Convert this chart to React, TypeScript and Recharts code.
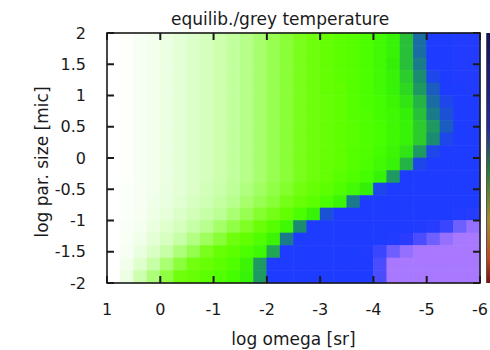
import React from 'react';
import { ScatterChart, Scatter, XAxis, YAxis } from 'recharts';

// column centres on log omega [sr], left (1) to right (-6), step 0.25
const OMEGA_CENTERS = [
  0.875, 0.625, 0.375, 0.125, -0.125, -0.375, -0.625, -0.875, -1.125, -1.375,
  -1.625, -1.875, -2.125, -2.375, -2.625, -2.875, -3.125, -3.375, -3.625, -3.875,
  -4.125, -4.375, -4.625, -4.875, -5.125, -5.375, -5.625, -5.875,
];

// row centres on log par. size [mic], top to bottom, step 0.2
const SIZE_CENTERS = [1.9, 1.7, 1.5, 1.3, 1.1, 0.9, 0.7, 0.5, 0.3, 0.1, -0.1, -0.3, -0.5, -0.7, -0.9, -1.1, -1.3, -1.5, -1.7, -1.9];

// temperature ratio level (0 = white .. 100 = violet), one row per size
const T_P19 = [0, 3, 7, 10, 13, 17, 20, 23, 26, 30, 34, 39, 44, 49, 54, 58, 61, 64, 66, 69, 72, 75, 80, 86, 90, 90, 91, 91];
const T_P17 = [0, 3, 7, 10, 13, 17, 20, 23, 26, 30, 34, 39, 44, 49, 54, 58, 61, 64, 66, 69, 72, 75, 80, 86, 90, 90, 91, 91];
const T_P15 = [0, 3, 7, 10, 13, 17, 20, 23, 26, 30, 34, 39, 44, 49, 54, 58, 61, 64, 66, 69, 72, 76, 80, 85, 90, 90, 91, 91];
const T_P13 = [0, 3, 7, 10, 13, 17, 20, 23, 26, 30, 34, 39, 44, 49, 54, 58, 61, 64, 66, 69, 72, 75, 79, 84, 89, 90, 91, 91];
const T_P11 = [0, 3, 7, 10, 13, 17, 20, 23, 26, 30, 34, 39, 44, 49, 54, 58, 61, 63, 66, 69, 72, 75, 78, 83, 87, 90, 90, 91];
const T_P09 = [0, 3, 7, 10, 13, 17, 20, 23, 26, 30, 34, 39, 44, 49, 54, 58, 60, 63, 66, 69, 71, 74, 77, 81, 86, 89, 90, 90];
const T_P07 = [0, 3, 7, 10, 13, 17, 20, 23, 26, 30, 34, 39, 44, 49, 54, 58, 60, 63, 66, 68, 71, 73, 76, 80, 85, 88, 90, 90];
const T_P05 = [0, 3, 7, 10, 13, 17, 20, 23, 26, 30, 34, 39, 44, 49, 54, 58, 60, 63, 65, 68, 70, 73, 75, 79, 83, 87, 90, 90];
const T_P03 = [0, 3, 7, 10, 13, 17, 20, 23, 26, 30, 34, 39, 44, 49, 54, 58, 60, 63, 65, 68, 70, 73, 75, 79, 84, 89, 90, 90];
const T_P01 = [0, 3, 7, 10, 13, 17, 20, 23, 26, 30, 34, 39, 44, 49, 54, 58, 60, 63, 66, 68, 71, 74, 77, 83, 89, 90, 90, 90];
const T_M01 = [0, 3, 7, 10, 13, 17, 20, 23, 26, 30, 34, 39, 44, 49, 54, 58, 61, 63, 66, 69, 72, 75, 81, 89, 90, 90, 90, 90];
const T_M03 = [0, 3, 7, 10, 13, 17, 20, 23, 26, 30, 34, 39, 44, 49, 54, 58, 61, 65, 68, 71, 75, 83, 90, 90, 90, 90, 90, 90];
const T_M05 = [0, 4, 7, 10, 14, 17, 20, 24, 27, 31, 36, 41, 46, 51, 56, 60, 64, 68, 72, 76, 89, 90, 90, 90, 90, 90, 90, 90];
const T_M07 = [0, 4, 7, 11, 14, 18, 22, 25, 29, 33, 39, 44, 49, 55, 60, 64, 69, 74, 85, 90, 90, 90, 90, 90, 90, 90, 90, 90];
const T_M09 = [0, 4, 8, 12, 16, 20, 24, 28, 32, 38, 44, 50, 55, 62, 69, 75, 88, 90, 90, 90, 90, 90, 90, 90, 90, 90, 91, 92];
const T_M11 = [0, 5, 9, 14, 19, 23, 28, 33, 40, 46, 52, 59, 66, 73, 84, 90, 90, 90, 90, 90, 90, 90, 90, 91, 92, 94, 97, 99];
const T_M13 = [0, 6, 11, 17, 22, 28, 35, 42, 49, 57, 62, 68, 74, 85, 90, 90, 90, 90, 90, 90, 90, 91, 93, 95, 97, 99, 100, 100];
const T_M15 = [0, 7, 14, 21, 28, 37, 45, 54, 60, 64, 69, 73, 82, 90, 90, 90, 90, 90, 90, 91, 94, 97, 99, 100, 100, 100, 100, 100];
const T_M17 = [0, 10, 19, 28, 38, 48, 56, 60, 64, 68, 74, 83, 90, 90, 90, 90, 90, 90, 90, 90, 95, 100, 100, 100, 100, 100, 100, 100];
const T_M19 = [0, 13, 26, 37, 47, 57, 60, 64, 67, 71, 75, 83, 90, 90, 90, 90, 90, 90, 90, 90, 95, 100, 100, 100, 100, 100, 100, 100];

const T_ROWS = [T_P19, T_P17, T_P15, T_P13, T_P11, T_P09, T_P07, T_P05, T_P03, T_P01,
  T_M01, T_M03, T_M05, T_M07, T_M09, T_M11, T_M13, T_M15, T_M17, T_M19];

const X_TICKS = [1, 0, -1, -2, -3, -4, -5, -6];
const Y_TICKS = [-2, -1.5, -1, -0.5, 0, 0.5, 1, 1.5, 2];

const PALETTE: [number, string][] = [
  [0, '#ffffff'], [8, '#f6fff2'], [16, '#e6ffda'], [24, '#d2ffb8'], [32, '#bcff94'],
  [40, '#a4ff68'], [48, '#8cff3c'], [56, '#72ff10'], [62, '#62ff00'], [70, '#48ff00'],
  [76, '#34f008'], [80, '#28c038'], [84, '#1a8c70'], [87, '#1a5cc0'], [90, '#1e3cff'],
  [93, '#2a3cff'], [96, '#5a56ff'], [100, '#a878ff'],
];

const W = 490;
const H = 350;
const PLOT_LEFT = 107;
const PLOT_RIGHT = 480;
const PLOT_TOP = 33;
const PLOT_BOTTOM = 283;
const PLOT_W = PLOT_RIGHT - PLOT_LEFT;
const PLOT_H = PLOT_BOTTOM - PLOT_TOP;
const CELL_W = (PLOT_W * 0.25) / 7;
const CELL_H = (PLOT_H * 0.2) / 4;
const TICK_LEN = 7;

const FONT = '"DejaVu Sans", sans-serif';
const INK = '#1a1a1a';
const EDGE = '#1a1a1a';

function hexToRgb(h: string) {
  const n = parseInt(h.slice(1), 16);
  return [(n >> 16) & 255, (n >> 8) & 255, n & 255];
}

function tempColor(v: number) {
  for (let i = 1; i < PALETTE.length; i++) {
    const [v1, c1] = PALETTE[i];
    if (v <= v1) {
      const [v0, c0] = PALETTE[i - 1];
      const t = (v - v0) / (v1 - v0);
      const a = hexToRgb(c0);
      const b = hexToRgb(c1);
      const rgb = a.map((x, k) => Math.round(x + (b[k] - x) * t));
      return `rgb(${rgb[0]},${rgb[1]},${rgb[2]})`;
    }
  }
  return PALETTE[PALETTE.length - 1][1];
}

const cells = T_ROWS.flatMap((row, r) =>
  row.map((v, c) => ({ x: OMEGA_CENTERS[c], y: SIZE_CENTERS[r], v })),
);

const HeatCell = (props: any) => {
  const { cx, cy, payload } = props;
  return (
    <rect
      x={cx - CELL_W / 2 - 0.3}
      y={cy - CELL_H / 2 - 0.3}
      width={CELL_W + 0.6}
      height={CELL_H + 0.6}
      fill={tempColor(payload.v)}
    />
  );
};

const tickStyle = { fontSize: 16, fill: INK, fontFamily: FONT };

// inward tick marks and border, laid over the cells
function Frame() {
  const px = (t: number) => PLOT_LEFT + ((1 - t) / 7) * PLOT_W;
  const py = (t: number) => PLOT_BOTTOM - ((t + 2) / 4) * PLOT_H;
  return (
    <svg width={W} height={H} style={{ position: 'absolute', left: 0, top: 0, pointerEvents: 'none' }}>
      <g stroke={EDGE} strokeWidth={1.6} fill="none">
        <rect x={PLOT_LEFT} y={PLOT_TOP} width={PLOT_W} height={PLOT_H} />
        {X_TICKS.map((t) => (
          <g key={`x${t}`} strokeWidth={2}>
            <line x1={px(t)} x2={px(t)} y1={PLOT_BOTTOM} y2={PLOT_BOTTOM - TICK_LEN} />
            <line x1={px(t)} x2={px(t)} y1={PLOT_TOP} y2={PLOT_TOP + TICK_LEN} />
          </g>
        ))}
        {Y_TICKS.map((t) => (
          <g key={`y${t}`} strokeWidth={2}>
            <line x1={PLOT_LEFT} x2={PLOT_LEFT + TICK_LEN} y1={py(t)} y2={py(t)} />
            <line x1={PLOT_RIGHT} x2={PLOT_RIGHT - TICK_LEN} y1={py(t)} y2={py(t)} />
          </g>
        ))}
      </g>
    </svg>
  );
}

export default function App() {
  return (
    <div style={{ position: 'absolute', left: 0, top: 0, width: W, height: H, background: '#fff', fontFamily: FONT, color: INK }}>
      <div style={{ position: 'absolute', left: 171, top: 9, width: 200, textAlign: 'center', fontSize: 17, lineHeight: '20px', whiteSpace: 'nowrap' }}>
        equilib./grey temperature
      </div>
      <div style={{ position: 'absolute', left: 0, top: 0 }}>
        <ScatterChart width={W} height={H} margin={{ top: PLOT_TOP, right: W - PLOT_RIGHT, bottom: 0, left: 0 }}>
          <XAxis
            type="number"
            dataKey="x"
            domain={[-6, 1]}
            reversed
            ticks={X_TICKS}
            interval={0}
            height={H - PLOT_BOTTOM}
            tickLine={false}
            axisLine={false}
            tickMargin={15}
            tick={tickStyle}
          />
          <YAxis
            type="number"
            dataKey="y"
            domain={[-2, 2]}
            ticks={Y_TICKS}
            interval={0}
            width={PLOT_LEFT}
            tickLine={false}
            axisLine={false}
            tickMargin={15}
            tick={tickStyle}
          />
          <Scatter data={cells} shape={HeatCell} isAnimationActive={false} />
        </ScatterChart>
      </div>
      <Frame />
      <div
        style={{
          position: 'absolute',
          left: 486,
          top: PLOT_TOP,
          width: 3,
          height: PLOT_H,
          borderLeft: '1px solid #555',
          background: 'linear-gradient(to bottom, #14145a, #2a2a9a 38%, #2a7a3a 55%, #a08a30 75%, #c04a20 90%, #7a1010)',
        }}
      />
      <div style={{ position: 'absolute', left: 193.5, top: 329, width: 200, textAlign: 'center', fontSize: 17, lineHeight: '20px', whiteSpace: 'nowrap' }}>
        log omega [sr]
      </div>
      <div
        style={{
          position: 'absolute',
          left: -58,
          top: 152,
          width: 200,
          textAlign: 'center',
          fontSize: 17,
          lineHeight: '20px',
          whiteSpace: 'nowrap',
          transform: 'rotate(-90deg)',
        }}
      >
        log par. size [mic]
      </div>
    </div>
  );
}
